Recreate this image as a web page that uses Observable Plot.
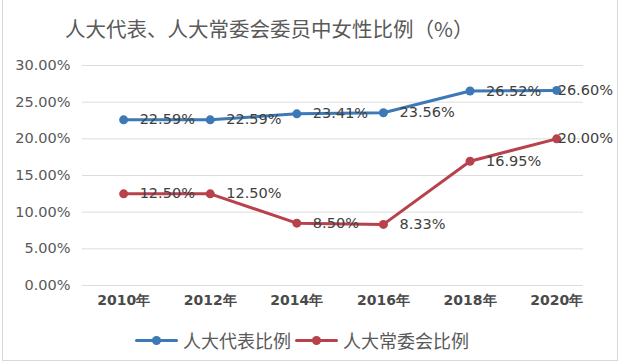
<!DOCTYPE html>
<html><head><meta charset="utf-8">
<script src="https://cdn.jsdelivr.net/npm/d3@7"></script>
<script src="https://cdn.jsdelivr.net/npm/@observablehq/plot@0.6"></script>
<style>
body{margin:0;background:#fff;}
#wrap{position:relative;width:620px;height:364px;overflow:hidden;background:#fff;}
#frame{position:absolute;left:2px;top:0;width:614px;height:360px;border:1px solid #d9d9d9;border-top:none;pointer-events:none;}
#title{position:absolute;left:65px;top:12px;font-family:"Noto Sans CJK SC",sans-serif;font-size:20.5px;color:#595959;white-space:nowrap;line-height:32px;}
#legend{position:absolute;top:326px;left:135px;font-family:"Noto Sans CJK SC",sans-serif;font-size:18px;color:#595959;display:flex;align-items:center;white-space:nowrap;}
.sw{position:relative;width:43px;height:28px;margin-right:5px;}
.sw .ln{position:absolute;left:0;right:0;top:12.5px;height:3px;border-radius:2px;}
.sw .dt{position:absolute;left:17px;top:9.5px;width:9px;height:9px;border-radius:50%;}
svg{position:absolute;left:0;top:0;}
</style></head>
<body><div id="wrap"><div id="title"></div><div id="legend"></div><div id="frame"></div></div>
<script>
const years = [2010, 2012, 2014, 2016, 2018, 2020];
const deputies = [22.59, 22.59, 23.41, 23.56, 26.52, 26.60];
const standing = [12.50, 12.50, 8.50, 8.33, 16.95, 20.00];
const seriesNames = ["人大代表比例", "人大常委会比例"];
const colors = ["#3d79b6", "#b8424c"];
const yTicks = [0, 5, 10, 15, 20, 25, 30];
const titleText = "人大代表、人大常委会委员中女性比例（%）";

const data = [];
years.forEach((y, i) => {
  data.push({year: y, value: deputies[i], series: seriesNames[0]});
  data.push({year: y, value: standing[i], series: seriesNames[1]});
});
const fmt = v => v.toFixed(2) + "%";

const chart = Plot.plot({
  width: 620,
  height: 364,
  marginLeft: 82,
  marginRight: 37,
  marginTop: 65,
  marginBottom: 79,
  style: {background: "transparent", fontFamily: "DejaVu Sans, sans-serif"},
  x: {domain: [2009.05, 2020.62], ticks: years, tickFormat: d => d + "年", tickSize: 0, tickPadding: 11, label: null},
  y: {domain: [0, 30], ticks: yTicks, tickFormat: fmt, tickSize: 0, tickPadding: 12, label: null},
  color: {domain: seriesNames, range: colors},
  marks: [
    Plot.ruleY(yTicks, {stroke: "#dcdcdc", strokeWidth: 1}),
    Plot.axisY({ticks: yTicks, tickFormat: fmt, tickSize: 0, tickPadding: 12, fontSize: 14.5, fill: "#595959", label: null}),
    Plot.axisX({ticks: years, tickFormat: d => d + "年", tickSize: 0, tickPadding: 10, fontSize: 14, fontWeight: "bold", fill: "#4a4a4a", label: null}),
    Plot.line(data, {x: "year", y: "value", z: "series", stroke: "series", strokeWidth: 3}),
    Plot.dot(data, {x: "year", y: "value", fill: "series", r: 4.5}),
    Plot.text(data.filter(d => d.year < 2020), {x: "year", y: "value", text: d => fmt(d.value), textAnchor: "start", dx: 16, fontSize: 14.5, fill: "#404040"}),
    Plot.text(data.filter(d => d.year === 2020), {x: "year", y: "value", text: d => fmt(d.value), textAnchor: "start", dx: 1, fontSize: 14.5, fill: "#404040"})
  ]
});
document.getElementById("wrap").prepend(chart);
document.getElementById("title").textContent = titleText;
const leg = document.getElementById("legend");
seriesNames.forEach((n, i) => {
  const sw = document.createElement("div"); sw.className = "sw";
  sw.innerHTML = `<div class="ln" style="background:${colors[i]}"></div><div class="dt" style="background:${colors[i]}"></div>`;
  const t = document.createElement("span"); t.textContent = n; t.style.marginRight = "4px";
  leg.append(sw, t);
});
</script></body></html>
